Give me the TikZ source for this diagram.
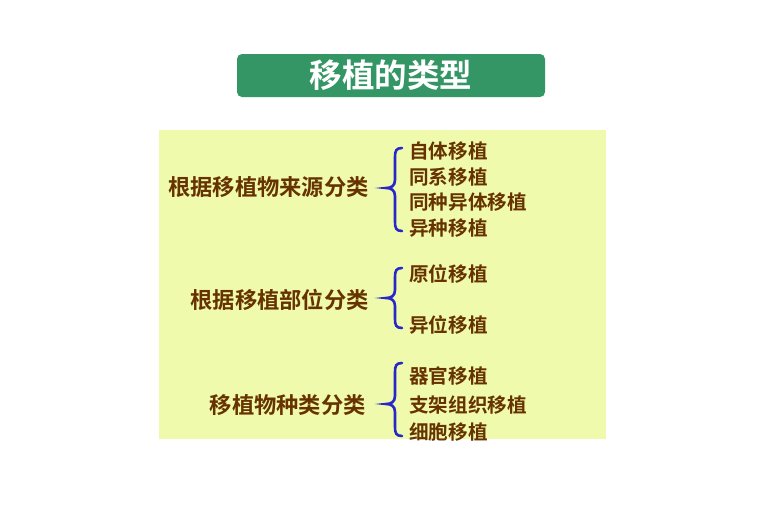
\documentclass[tikz,border=0pt]{standalone}
\usepackage{fontspec}
\newfontfamily\cjk{Noto Sans CJK SC Bold}
\definecolor{titlegreen}{RGB}{52,150,100}
\definecolor{bgyellow}{RGB}{240,250,172}
\definecolor{txtbrown}{RGB}{102,51,0}
\definecolor{braceblue}{RGB}{40,40,200}
\begin{document}
\begin{tikzpicture}[x=1pt,y=-1pt,
  cat/.style={anchor=east,inner sep=0pt,text=txtbrown,font=\cjk\fontsize{22.3}{22.3}\selectfont},
  item/.style={anchor=west,inner sep=0pt,text=txtbrown,font=\cjk\fontsize{19.6}{19.6}\selectfont},
  brace/.style={draw=braceblue,line width=2.6pt,line cap=round}]
\useasboundingbox (0,0) rectangle (770,525);
\fill[white] (0,0) rectangle (770,525);
\node[fill=titlegreen,rounded corners=5pt,minimum width=308pt,minimum height=43pt,inner sep=0pt,
  text=white,font=\cjk\fontsize{32.5}{32.5}\selectfont] (title) at (391,75.5) {移植的类型};
\node[fill=bgyellow,minimum width=447pt,minimum height=309pt,inner sep=0pt] (bg) at (382.5,284.5) {};
% group 1
\node[cat] (c1) at (369,187) {根据移植物来源分类};
\node[item] (i11) at (409,151) {自体移植};
\node[item] (i12) at (409,177) {同系移植};
\node[item] (i13) at (409,202) {同种异体移植};
\node[item] (i14) at (409,228) {异种移植};
% group 2
\node[cat] (c2) at (369,300) {根据移植部位分类};
\node[item] (i21) at (409,274) {原位移植};
\node[item] (i22) at (409,325) {异位移植};
% group 3
\node[cat] (c3) at (366,405) {移植物种类分类};
\node[item] (i31) at (409,376) {器官移植};
\node[item] (i32) at (409,405) {支架组织移植};
\node[item] (i33) at (409,432) {细胞移植};
% braces
\coordinate (b1t) at (402,148); \coordinate (b1m) at (386,188); \coordinate (b1b) at (402,231);
\draw[brace] (b1t) .. controls (396,148) and (395,151) .. (395,157) -- (395,180)
  .. controls (395,186) and (391,188) .. (b1m) .. controls (391,188) and (395,190) .. (395,196)
  -- (395,222) .. controls (395,228) and (396,231) .. (b1b);
\coordinate (b2t) at (402,268); \coordinate (b2m) at (386,298); \coordinate (b2b) at (402,328);
\draw[brace] (b2t) .. controls (396,268) and (395,271) .. (395,277) -- (395,290)
  .. controls (395,296) and (391,298) .. (b2m) .. controls (391,298) and (395,300) .. (395,306)
  -- (395,319) .. controls (395,325) and (396,328) .. (b2b);
\coordinate (b3t) at (402,363); \coordinate (b3m) at (386,404); \coordinate (b3b) at (402,436);
\draw[brace] (b3t) .. controls (396,363) and (395,366) .. (395,372) -- (395,396)
  .. controls (395,402) and (391,404) .. (b3m) .. controls (391,404) and (395,406) .. (395,412)
  -- (395,427) .. controls (395,433) and (396,436) .. (b3b);
\end{tikzpicture}
\end{document}
